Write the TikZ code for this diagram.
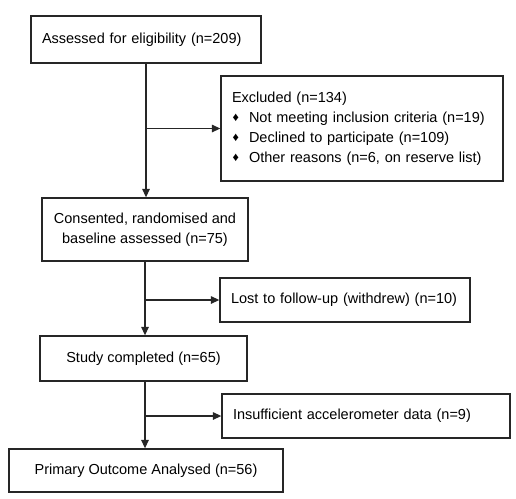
\documentclass[tikz,border=0pt]{standalone}
\usepackage{fontspec}
\setmainfont{Liberation Sans}
\usetikzlibrary{arrows.meta}
\newcommand\diabul{\makebox[17pt][l]{\hspace{0.5pt}\raisebox{0.5pt}{\fontsize{12.5}{12}\selectfont ♦}}}
\begin{document}
\begin{tikzpicture}[x=1pt,y=-1pt,
  box/.style={draw=black!85, line width=1.3pt, inner sep=0pt, text=black,
    font=\fontsize{14.5}{20}\selectfont},
  arr/.style={draw=black!85, line width=1.3pt, -{Triangle[length=8.5pt,width=7.5pt]}}]
\useasboundingbox (0,0) rectangle (516,498);
\node[box, minimum width=230pt, minimum height=47pt, align=left, text width=208pt] (b1) at (146,39.5) {Assessed for eligibility (n=209)};
\node[box, minimum width=282pt, minimum height=105pt, align=left, text width=260pt] (ex) at (362,128.5)
  {Excluded (n=134)\\
   \diabul Not meeting inclusion criteria (n=19)\\
   \diabul Declined to participate (n=109)\\
   \diabul Other reasons (n=6, on reserve list)};
\node[box, minimum width=206pt, minimum height=63pt, align=center] (b2) at (145,229.5) {Consented, randomised and\\baseline assessed (n=75)};
\node[box, minimum width=250pt, minimum height=44pt, align=left, text width=228pt] (lost) at (345,300) {Lost to follow-up (withdrew) (n=10)};
\node[box, minimum width=207pt, minimum height=45pt, align=center] (b3) at (143.5,358.5) {Study completed (n=65)};
\node[box, minimum width=288pt, minimum height=44pt, align=left, text width=266pt] (ins) at (366,416) {Insufficient accelerometer data (n=9)};
\node[box, minimum width=274pt, minimum height=43pt, align=center] (pr) at (146,470.5) {Primary Outcome Analysed (n=56)};
\draw[arr] (b1.south) -- (b1.south |- b2.north);
\draw[arr] (b1.south |- ex.west) -- (ex.west);
\draw[arr] (b2.south) -- (b2.south |- b3.north);
\draw[arr] (b2.south |- lost.west) -- (lost.west);
\draw[arr] (b2.south |- b3.south) -- (b2.south |- pr.north);
\draw[arr] (b2.south |- ins.west) -- (ins.west);
\end{tikzpicture}
\end{document}
